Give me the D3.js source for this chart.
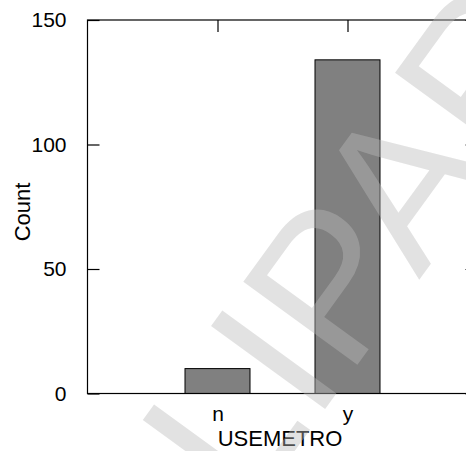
<!DOCTYPE html>
<html><head><meta charset="utf-8">
<script src="https://cdn.jsdelivr.net/npm/d3@7"></script>
<style>body{margin:0;background:#fff}svg{display:block}</style>
</head><body>
<script>
const categories = ["n", "y"];
const counts = [10, 134];
const yTicks = [0, 50, 100, 150];
const xTitle = "USEMETRO";
const yTitle = "Count";
const watermark = "CLIPART";

(function () {
const W = 466, H = 451;
const svg = d3.select("body").append("svg").attr("width", W).attr("height", H);
const pLeft = 87.5, pRight = 477.5, pTop = 20, pBottom = 393.5;
const x = d3.scaleLinear().domain([0, categories.length + 1]).range([pLeft, pRight]);
const y = d3.scaleLinear().domain([0, 150]).range([pBottom, pTop]);
const font = "Liberation Sans, Arial, Helvetica, sans-serif";
const barW = 65;

// bars
svg.selectAll("rect.bar").data(counts).join("rect")
  .attr("x", (d, i) => x(i + 1) - barW / 2)
  .attr("width", barW)
  .attr("y", d => y(d))
  .attr("height", d => y(0) - y(d))
  .attr("fill", "#808080").attr("stroke", "#000").attr("stroke-width", 1);

// frame
svg.append("rect").attr("x", pLeft).attr("y", pTop).attr("width", pRight - pLeft).attr("height", pBottom - pTop)
  .attr("fill", "none").attr("stroke", "#000").attr("stroke-width", 1.2);

// axes with inward ticks
const yAxisL = d3.axisLeft(y).tickValues(yTicks).tickSize(-12).tickPadding(21);
const gL = svg.append("g").attr("transform", `translate(${pLeft},0)`).call(yAxisL);
const yAxisR = d3.axisRight(y).tickValues(yTicks).tickSize(-12).tickFormat("");
const gR = svg.append("g").attr("transform", `translate(${pRight},0)`).call(yAxisR);
const xAxisB = d3.axisBottom(x).tickValues(categories.map((c, i) => i + 1))
  .tickFormat((d) => categories[d - 1]).tickSize(0).tickPadding(13);
const gB = svg.append("g").attr("transform", `translate(0,${pBottom})`).call(xAxisB);
const xAxisT = d3.axisTop(x).tickValues(categories.map((c, i) => i + 1)).tickSize(-12).tickFormat("");
const gT = svg.append("g").attr("transform", `translate(0,${pTop})`).call(xAxisT);
[gL, gR, gB, gT].forEach(g => {
  g.select(".domain").remove();
  g.selectAll(".tick line").attr("stroke", "#000").attr("stroke-width", 1.2);
  g.selectAll("text").attr("fill", "#000").style("font-family", font).style("font-size", "21px");
});

// titles
svg.append("text").attr("x", 280).attr("y", 446).attr("text-anchor", "middle")
  .style("font-family", font).style("font-size", "22px").attr("fill", "#000").text(xTitle);
svg.append("text").attr("transform", "translate(30,212) rotate(-90)").attr("text-anchor", "middle")
  .style("font-family", font).style("font-size", "22px").attr("fill", "#000").text(yTitle);

// watermark
svg.append("text").attr("transform", "translate(365,262) rotate(-54)").attr("text-anchor", "middle")
  .attr("dominant-baseline", "middle")
  .style("font-family", font).style("font-size", "205px")
  .attr("fill", "#bababa").attr("fill-opacity", 0.42).text(watermark);
})();
</script>
</body></html>
